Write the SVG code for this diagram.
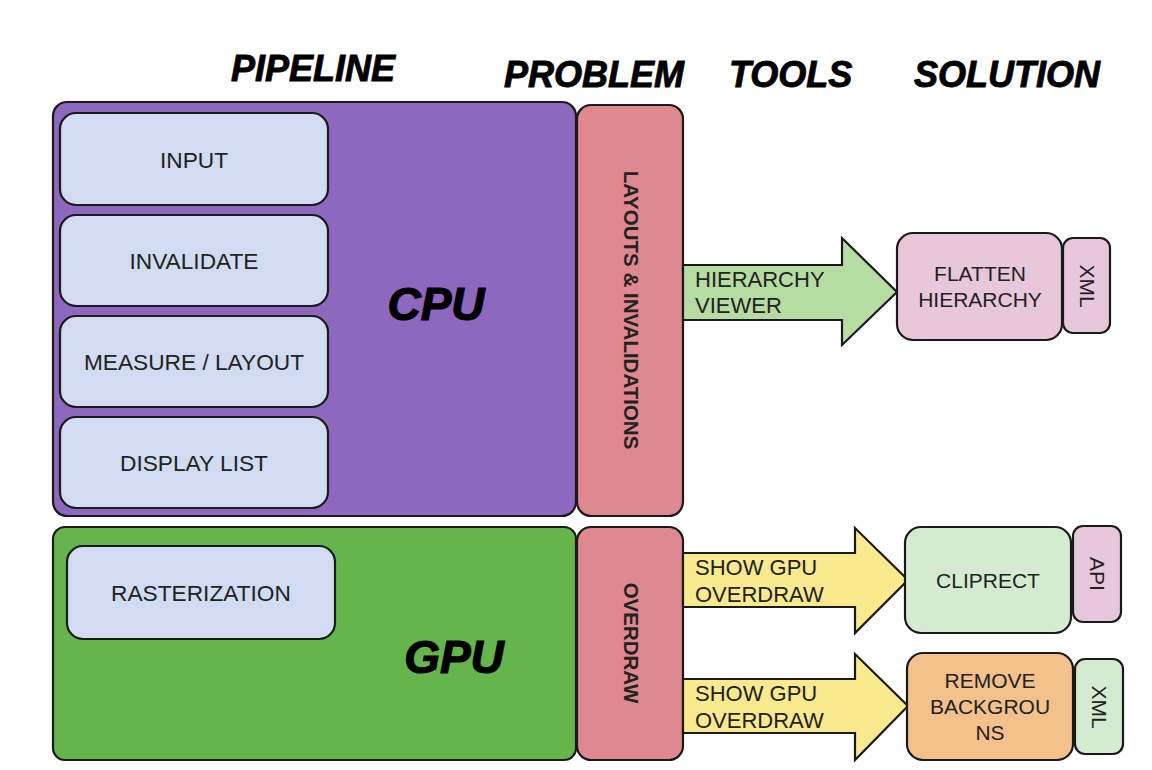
<svg xmlns="http://www.w3.org/2000/svg" width="1152" height="770" viewBox="0 0 1152 770">
<style>
.hd{font-family:"Liberation Sans",Arial,sans-serif;font-weight:bold;font-style:italic;font-size:36px;fill:#000;stroke:#000;stroke-width:0.9}
.big{font-family:"Liberation Sans",Arial,sans-serif;font-weight:bold;font-style:italic;font-size:46px;fill:#000;stroke:#000;stroke-width:1.2;text-anchor:middle}
.t{font-family:"Liberation Sans",Arial,sans-serif;font-size:21px;fill:#222;text-anchor:middle}
.ti{font-family:"Liberation Sans",Arial,sans-serif;font-size:22.7px;fill:#222;text-anchor:middle}
.ta{font-family:"Liberation Sans",Arial,sans-serif;font-size:22px;fill:#222}
.tb{font-family:"Liberation Sans",Arial,sans-serif;font-size:20.5px;font-weight:bold;fill:#222;text-anchor:middle}
.tv{font-family:"Liberation Sans",Arial,sans-serif;font-size:21px;fill:#222;text-anchor:middle}
.s{stroke:#1a1a1a;stroke-width:2.2}
.inner{fill:#d1dcf2}
</style>
<rect width="1152" height="770" fill="#ffffff"/>
<g id="headers">
<text class="hd" x="231" y="81">PIPELINE</text>
<text class="hd" x="504" y="87">PROBLEM</text>
<text class="hd" x="729" y="87">TOOLS</text>
<text class="hd" x="914" y="87">SOLUTION</text>
</g>
<g id="cpu">
<rect class="s" x="53" y="102" width="523" height="414" rx="14" fill="#8e67bf"/>
<text class="big" x="436" y="320">CPU</text>
</g>
<g id="input"><rect class="s inner" x="60" y="113" width="268" height="92" rx="16"/><text class="ti" x="194" y="168">INPUT</text></g>
<g id="invalidate"><rect class="s inner" x="60" y="215" width="268" height="91" rx="16"/><text class="ti" x="194" y="269">INVALIDATE</text></g>
<g id="measure"><rect class="s inner" x="60" y="316" width="268" height="91" rx="16"/><text class="ti" x="194" y="370">MEASURE / LAYOUT</text></g>
<g id="displaylist"><rect class="s inner" x="60" y="417" width="268" height="91" rx="16"/><text class="ti" x="194" y="471">DISPLAY LIST</text></g>
<g id="gpu">
<rect class="s" x="53" y="527" width="523" height="233" rx="12" fill="#66b54c"/>
<text class="big" x="454" y="673">GPU</text>
</g>
<g id="rasterization"><rect class="s inner" x="67" y="546" width="268" height="93" rx="16"/><text class="ti" x="201" y="601">RASTERIZATION</text></g>
<g id="layouts">
<rect class="s" x="577" y="105" width="106" height="411" rx="14" fill="#e0888f"/>
<text class="tb" transform="translate(624,310) rotate(90)" font-size="21">LAYOUTS &amp; INVALIDATIONS</text>
</g>
<g id="overdraw">
<rect class="s" x="577" y="527" width="106" height="233" rx="14" fill="#e0888f"/>
<text class="tb" transform="translate(624,643) rotate(90)">OVERDRAW</text>
</g>
<g id="connectors">
<g id="arrow-hierarchy">
<polygon class="s" points="683,265 842,265 842,238 897,292 842,345 842,320 683,320" fill="#b6dca3"/>
<text class="ta" x="695" y="287">HIERARCHY</text>
<text class="ta" x="695" y="313">VIEWER</text>
</g>
<g id="arrow-overdraw1">
<polygon class="s" points="683,553 855,553 855,528 908,580 855,633 855,607 683,607" fill="#f9e98f"/>
<text class="ta" x="695" y="575">SHOW GPU</text>
<text class="ta" x="695" y="602">OVERDRAW</text>
</g>
<g id="arrow-overdraw2">
<polygon class="s" points="683,679 855,679 855,654 908,706 855,760 855,733 683,733" fill="#f9e98f"/>
<text class="ta" x="695" y="701">SHOW GPU</text>
<text class="ta" x="695" y="728">OVERDRAW</text>
</g>
</g>
<g id="flatten">
<rect class="s" x="897" y="233" width="165" height="107" rx="16" fill="#e8c7da"/>
<text class="t" x="980" y="281">FLATTEN</text>
<text class="t" x="980" y="307">HIERARCHY</text>
</g>
<g id="xml1">
<rect class="s" x="1063" y="238" width="47" height="95" rx="10" fill="#e6c7db"/>
<text class="tv" transform="translate(1080,286) rotate(90)">XML</text>
</g>
<g id="cliprect">
<rect class="s" x="905" y="527" width="166" height="106" rx="16" fill="#d5ebd1"/>
<text class="t" x="988" y="588">CLIPRECT</text>
</g>
<g id="api">
<rect class="s" x="1073" y="526" width="48" height="96" rx="10" fill="#e6c7db"/>
<text class="tv" transform="translate(1090,574) rotate(90)">API</text>
</g>
<g id="remove">
<rect class="s" x="907" y="653" width="166" height="107" rx="16" fill="#f4c08c"/>
<text class="t" x="990" y="688">REMOVE</text>
<text class="t" x="990" y="714">BACKGROU</text>
<text class="t" x="990" y="740">NS</text>
</g>
<g id="xml2">
<rect class="s" x="1075" y="659" width="48" height="95" rx="10" fill="#d5ebd1"/>
<text class="tv" transform="translate(1092,707) rotate(90)">XML</text>
</g>
</svg>
